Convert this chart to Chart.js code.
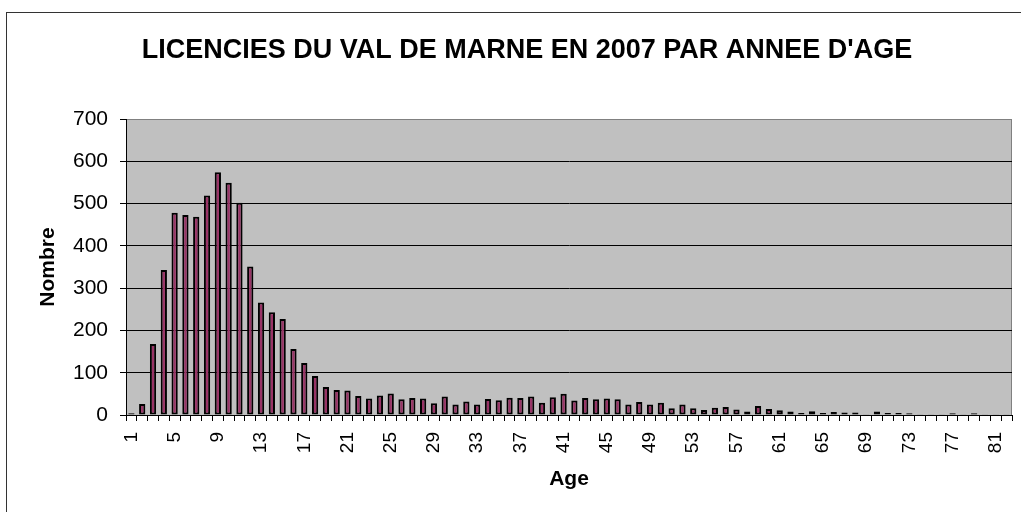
<!DOCTYPE html>
<html>
<head>
<meta charset="utf-8">
<script src="https://cdn.jsdelivr.net/npm/chart.js@4/dist/chart.umd.min.js"></script>
<style>
  html, body { margin: 0; padding: 0; background: #fff; }
  #wrap { width: 1021px; height: 512px; }
</style>
</head>
<body>
<div id="wrap"><canvas id="ageChart"></canvas></div>
<script>
// Age categories (1..82)
const ages = ['1','2','3','4','5','6','7','8','9','10','11','12','13','14','15','16','17','18','19','20',
  '21','22','23','24','25','26','27','28','29','30','31','32','33','34','35','36','37','38','39','40',
  '41','42','43','44','45','46','47','48','49','50','51','52','53','54','55','56','57','58','59','60',
  '61','62','63','64','65','66','67','68','69','70','71','72','73','74','75','76','77','78','79','80',
  '81','82'];

// Number of licence holders per age
const nombre = [4, 26, 168, 343, 478, 473, 469, 519, 574, 549,
  502, 351, 266, 243, 227, 156, 123, 92, 66, 59,
  58, 45, 39, 46, 51, 37, 40, 39, 28, 44,
  25, 32, 25, 38, 35, 41, 40, 44, 29, 42,
  50, 34, 40, 37, 39, 37, 25, 31, 25, 29,
  16, 25, 16, 12, 17, 19, 13, 8, 21, 14,
  11, 8, 5, 9, 5, 7, 6, 6, 2, 8,
  5, 5, 4, 2, 2, 2, 4, 2, 4, 2,
  2, 2];

// Labels actually printed under the x axis
const shownAges = ['1','5','9','13','17','21','25','29','33','37','41','45','49','53','57','61','65','69','73','77','81'];
const yTicks = [0, 100, 200, 300, 400, 500, 600, 700];

const FONT = "'Liberation Sans', Arial, sans-serif";
const TITLE = "LICENCIES DU VAL DE MARNE EN 2007 PAR ANNEE D'AGE";

// grey plot area + frame, outer chart border and the title
const decor = {
  id: 'decor',
  beforeDraw(chart) {
    const { ctx, chartArea: a } = chart;
    ctx.save();
    ctx.fillStyle = '#fff';
    ctx.fillRect(0, 0, chart.width, chart.height);
    ctx.fillStyle = '#c0c0c0';
    ctx.fillRect(a.left, a.top, a.right - a.left, a.bottom - a.top);
    ctx.strokeStyle = '#808080';
    ctx.lineWidth = 1;
    ctx.strokeRect(a.left + 0.5, a.top + 0.5, a.right - a.left - 1, a.bottom - a.top);
    // outer border (right / bottom fall outside the picture)
    ctx.strokeStyle = '#333';
    ctx.strokeRect(6.5, 12.5, chart.width + 20, chart.height + 20);
    ctx.restore();
  },
  afterDraw(chart) {
    const { ctx } = chart;
    ctx.save();
    ctx.fillStyle = '#000';
    ctx.font = 'bold 27px ' + FONT;
    ctx.textAlign = 'center';
    ctx.textBaseline = 'middle';
    ctx.fillText(TITLE, 527, 51);
    ctx.restore();
  }
};

new Chart(document.getElementById('ageChart'), {
  type: 'bar',
  data: {
    labels: ages,
    datasets: [{
      label: 'Nombre',
      data: nombre,
      backgroundColor: '#993366',
      borderColor: '#000',
      borderWidth: 2,
      borderSkipped: false,
      categoryPercentage: 1,
      barPercentage: 0.58
    }]
  },
  options: {
    responsive: true,
    maintainAspectRatio: false,
    animation: false,
    layout: { padding: { top: 119, right: 9, left: 0, bottom: 0 } },
    plugins: {
      legend: { display: false },
      tooltip: { enabled: false }
    },
    scales: {
      x: {
        grid: { offset: true, drawOnChartArea: false, color: '#000', tickLength: 6 },
        border: { color: '#000' },
        ticks: {
          autoSkip: false,
          minRotation: 90,
          maxRotation: 90,
          padding: 11,
          color: '#000',
          font: { family: FONT, size: 19 },
          callback: (v, i) => shownAges.includes(ages[i]) ? ages[i] : ''
        },
        title: { display: true, text: 'Age', color: '#000', font: { family: FONT, size: 21, weight: 'bold' }, padding: { top: 0, bottom: 20 } },
        afterFit: s => { s.height = 97; s.paddingLeft = 0; s.paddingRight = 0; }
      },
      y: {
        min: 0,
        max: 700,
        afterBuildTicks: s => { s.ticks = yTicks.map(v => ({ value: v })); },
        grid: {
          color: c => (c.tick && c.tick.value === 700) ? '#808080' : '#000',
          tickColor: '#000',
          tickLength: 6
        },
        border: { color: '#000' },
        ticks: { padding: 12, color: '#000', font: { family: FONT, size: 21 } },
        title: { display: true, text: 'Nombre', color: '#000', font: { family: FONT, size: 21, weight: 'bold' }, padding: { top: 36, bottom: 0 } },
        afterFit: s => { s.width = 126; s.paddingTop = 0; s.paddingBottom = 0; }
      }
    }
  },
  plugins: [decor]
});
</script>
</body>
</html>
